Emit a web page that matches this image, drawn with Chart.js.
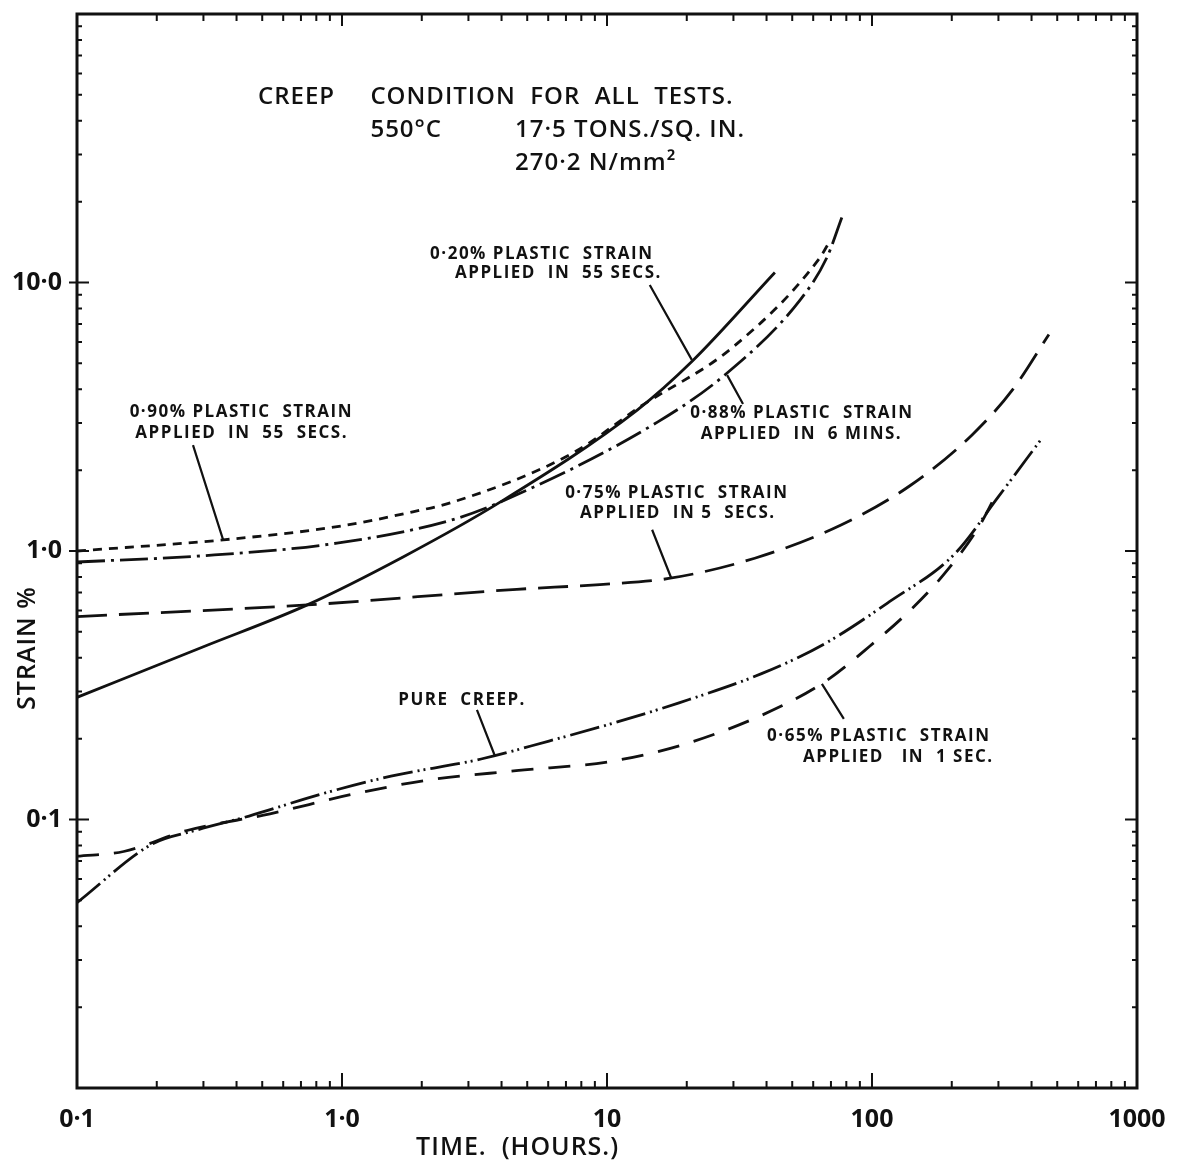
<!DOCTYPE html>
<html>
<head>
<meta charset="utf-8">
<script src="https://cdn.jsdelivr.net/npm/chart.js@4.4.1/dist/chart.umd.min.js"></script>
<style>
  html, body { margin: 0; padding: 0; background: #fff; }
  canvas { display: block; }
</style>
</head>
<body>
<canvas id="creep" width="1190" height="1169"></canvas>
<script>
// Axis ticks
const timeTicks = [0.1, 1, 10, 100, 1000];
const timeTickLabels = ['0·1', '1·0', '10', '100', '1000'];
const strainTicks = [0.1, 1, 10];
const strainTickLabels = ['0·1', '1·0', '10·0'];

// 0·20% plastic strain applied in 55 secs (solid)
const time020 = [0.1, 0.3, 0.74, 1.7, 3.95, 13, 21, 43];
const strain020 = [0.285, 0.44, 0.63, 0.95, 1.52, 3.35, 5.1, 10.9];

// 0·90% plastic strain applied in 55 secs (short dash)
const time090 = [0.1, 0.356, 1.0, 1.85, 2.56, 7.45, 13.3, 29.9, 63.7, 68];
const strain090 = [1.0, 1.10, 1.24, 1.40, 1.51, 2.32, 3.44, 5.75, 12.4, 13.8];

// 0·88% plastic strain applied in 6 mins (dash-dot)
const time088 = [0.1, 0.3, 0.957, 2.56, 3.95, 15.5, 28.4, 53.5, 67.6, 77];
const strain088 = [0.91, 0.96, 1.07, 1.30, 1.52, 3.02, 4.6, 8.6, 12.4, 17.5];

// 0·75% plastic strain applied in 5 secs (long dash)
const time075 = [0.1, 0.74, 4.57, 9.4, 17.1, 36.1, 76.4, 139, 238, 340, 465];
const strain075 = [0.57, 0.63, 0.72, 0.75, 0.79, 0.94, 1.25, 1.75, 2.7, 4.0, 6.4];

// Pure creep (dash-dot-dot)
const timePure = [0.1, 0.192, 0.279, 0.446, 0.826, 1.53, 3.35, 6.04, 10, 18.7, 38.5, 65.9, 116, 205, 301, 434];
const strainPure = [0.049, 0.081, 0.091, 0.103, 0.124, 0.145, 0.168, 0.196, 0.225, 0.272, 0.35, 0.45, 0.646, 0.975, 1.6, 2.6];

// 0·65% plastic strain applied in 1 sec (medium dash)
const time065 = [0.1, 0.15, 0.26, 0.535, 1.09, 2.09, 4.54, 10.5, 21.1, 45.7, 67.6, 97.5, 139, 187, 253, 301];
const strain065 = [0.073, 0.076, 0.091, 0.105, 0.124, 0.14, 0.152, 0.165, 0.195, 0.265, 0.33, 0.44, 0.6, 0.82, 1.23, 1.7];

const INK = '#111';
const FONT = "'Open Sans', 'DejaVu Sans', sans-serif";

function pairs(t, e) { return t.map((x, i) => ({ x: x, y: e[i] })); }

const curves = [
  { data: pairs(time020, strain020), dash: [] },
  { data: pairs(time090, strain090), dash: [9, 7] },
  { data: pairs(time088, strain088), dash: [28, 6, 3, 6] },
  { data: pairs(time075, strain075), dash: [30, 12] },
  { data: pairs(timePure, strainPure), dash: [30, 5, 2, 4, 2, 5] },
  { data: pairs(time065, strain065), dash: [22, 15] }
];

// Text blocks: [text, time, strain] with text left edge and vertical centre
const notes = [
  { size: 24, weight: 600, spacing: '1px', rows: [
    ['CREEP', 0.482, 49.1], ['CONDITION  FOR  ALL  TESTS.', 1.28, 49.1],
    ['550°C', 1.28, 37.0], ['17·5 TONS./SQ. IN.', 4.50, 37.0],
    ['270·2 N/mm²', 4.50, 27.9] ] },
  { size: 17, weight: 700, spacing: '1.5px', rows: [
    ['0·20% PLASTIC  STRAIN', 2.15, 12.8], ['APPLIED  IN  55 SECS.', 2.67, 10.8],
    ['0·88% PLASTIC  STRAIN', 20.6, 3.27], ['APPLIED  IN  6 MINS.', 22.6, 2.73],
    ['0·90% PLASTIC  STRAIN', 0.158, 3.29], ['APPLIED  IN  55  SECS.', 0.166, 2.75],
    ['0·75% PLASTIC  STRAIN', 6.95, 1.64], ['APPLIED  IN 5  SECS.', 7.91, 1.385],
    ['PURE  CREEP.', 1.63, 0.279],
    ['0·65% PLASTIC  STRAIN', 40.2, 0.205], ['APPLIED   IN  1 SEC.', 54.9, 0.171] ] }
];

// Leader lines from label to curve: [time1, strain1, time2, strain2]
const leaders = [
  [14.5, 9.79, 20.9, 5.15],
  [32.6, 3.53, 28.4, 4.52],
  [0.274, 2.48, 0.356, 1.10],
  [14.8, 1.2, 17.5, 0.79],
  [3.23, 0.256, 3.78, 0.172],
  [78.3, 0.237, 64.7, 0.32]
];

// Axis titles: text, anchor value along the axis
const timeTitle = ['TIME.  (HOURS.)', 4.6];
const strainTitle = ['STRAIN %', 0.435];

function minorValues(lo, hi) {
  const out = [];
  for (let d = lo; d < hi * 0.999; d *= 10) {
    for (let k = 2; k <= 9; k++) out.push(d * k);
  }
  return out;
}

const framePlugin = {
  id: 'frameTicks',
  afterDatasetsDraw(chart) {
    const { ctx, chartArea: a, scales: { x, y } } = chart;
    ctx.save();
    ctx.strokeStyle = INK;
    ctx.lineCap = 'butt';
    // inward ticks on all four sides
    ctx.lineWidth = 2;
    const xMinor = minorValues(0.1, 1000);
    const yMinor = minorValues(0.01, 100);
    ctx.beginPath();
    xMinor.forEach(v => {
      const px = x.getPixelForValue(v);
      ctx.moveTo(px, a.bottom); ctx.lineTo(px, a.bottom - 7);
      ctx.moveTo(px, a.top); ctx.lineTo(px, a.top + 7);
    });
    timeTicks.forEach(v => {
      const px = x.getPixelForValue(v);
      ctx.moveTo(px, a.bottom); ctx.lineTo(px, a.bottom - 15);
      ctx.moveTo(px, a.top); ctx.lineTo(px, a.top + 12);
    });
    yMinor.forEach(v => {
      const py = y.getPixelForValue(v);
      ctx.moveTo(a.left, py); ctx.lineTo(a.left + 5, py);
      ctx.moveTo(a.right, py); ctx.lineTo(a.right - 5, py);
    });
    strainTicks.forEach(v => {
      const py = y.getPixelForValue(v);
      ctx.moveTo(a.left - 8, py); ctx.lineTo(a.left + 12, py);
      ctx.moveTo(a.right, py); ctx.lineTo(a.right - 12, py);
    });
    ctx.stroke();
    // frame
    ctx.lineWidth = 3;
    ctx.strokeRect(a.left, a.top, a.right - a.left, a.bottom - a.top);

    // leader lines
    ctx.lineWidth = 2.2;
    ctx.beginPath();
    leaders.forEach(l => {
      ctx.moveTo(x.getPixelForValue(l[0]), y.getPixelForValue(l[1]));
      ctx.lineTo(x.getPixelForValue(l[2]), y.getPixelForValue(l[3]));
    });
    ctx.stroke();

    // annotation text
    ctx.fillStyle = INK;
    ctx.textAlign = 'left';
    ctx.textBaseline = 'middle';
    notes.forEach(n => {
      ctx.font = n.weight + ' ' + n.size + 'px ' + FONT;
      ctx.letterSpacing = n.spacing;
      n.rows.forEach(r => {
        ctx.fillText(r[0], x.getPixelForValue(r[1]), y.getPixelForValue(r[2]));
      });
    });

    // axis titles
    ctx.letterSpacing = '1px';
    ctx.font = '600 25px ' + FONT;
    ctx.textAlign = 'center';
    ctx.fillText(timeTitle[0], x.getPixelForValue(timeTitle[1]), chart.height - 21);
    ctx.save();
    ctx.translate(28, y.getPixelForValue(strainTitle[1]));
    ctx.rotate(-Math.PI / 2);
    ctx.fillText(strainTitle[0], 0, 0);
    ctx.restore();
    ctx.restore();
  }
};

new Chart(document.getElementById('creep'), {
  type: 'line',
  data: {
    datasets: curves.map(c => ({
      data: c.data,
      borderColor: INK,
      borderWidth: 2.8,
      borderDash: c.dash,
      pointRadius: 0,
      fill: false,
      cubicInterpolationMode: 'monotone'
    }))
  },
  options: {
    responsive: false,
    animation: false,
    events: [],
    layout: { padding: { top: 14, right: 53, left: 0, bottom: 0 } },
    plugins: { legend: { display: false }, tooltip: { enabled: false } },
    scales: {
      x: {
        type: 'logarithmic',
        position: 'bottom',
        min: 0.1,
        max: 1000,
        grid: { display: false, drawTicks: false },
        border: { display: false },
        afterBuildTicks: s => { s.ticks = timeTicks.map(v => ({ value: v })); },
        afterFit: s => { s.height = 81; s.paddingLeft = 0; s.paddingRight = 0; },
        ticks: {
          autoSkip: false, maxRotation: 0, minRotation: 0, padding: 17, color: INK,
          font: { family: FONT, size: 25, weight: 700 },
          callback: (v, i) => timeTickLabels[i]
        }
      },
      y: {
        type: 'logarithmic',
        position: 'left',
        min: 0.01,
        max: 100,
        grid: { display: false, drawTicks: false },
        border: { display: false },
        afterBuildTicks: s => { s.ticks = strainTicks.map(v => ({ value: v })); },
        afterFit: s => { s.width = 77; s.paddingTop = 0; s.paddingBottom = 0; },
        ticks: {
          autoSkip: false, padding: 15, color: INK,
          font: { family: FONT, size: 25, weight: 700 },
          callback: (v, i) => strainTickLabels[i]
        }
      }
    }
  },
  plugins: [framePlugin]
});
</script>
</body>
</html>
